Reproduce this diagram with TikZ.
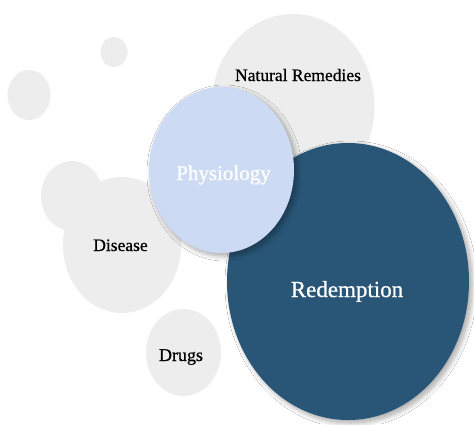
\documentclass[tikz,border=0pt]{standalone}
\usepackage{fontspec}
\setmainfont{Liberation Serif}
\newfontfamily\labelfont[FakeBold=0.7]{Liberation Serif}
\usetikzlibrary{shapes.geometric,shadows.blur}
\definecolor{bubblegray}{HTML}{EDEDED}
\definecolor{physfill}{HTML}{CCDAF3}
\definecolor{redfill}{HTML}{295677}
\tikzset{
  bubble/.style={ellipse, inner sep=0pt, draw=none, fill=bubblegray},
  lifted/.style={blur shadow={shadow xshift=3pt, shadow yshift=-3pt, shadow blur radius=5pt, shadow blur steps=12, shadow opacity=35}},
  darktext/.style={text=black, anchor=base, inner sep=0pt},
  lighttext/.style={text=white, anchor=base, inner sep=0pt}
}
\begin{document}
\begin{tikzpicture}[x=1pt, y=-1pt]
\useasboundingbox (0,0) rectangle (474,424);
\fill[white] (0,0) rectangle (474,424);

% background bubbles
\node[bubble, minimum width=27pt, minimum height=30pt] (dotA) at (114,52) {};
\node[bubble, minimum width=43pt, minimum height=50pt] (dotB) at (29,95) {};
\node[bubble, minimum width=163pt, minimum height=184pt] (remedies) at (293,106) {};
\node[bubble, minimum width=62pt, minimum height=70pt] (diseaseSmall) at (72,196) {};
\node[bubble, minimum width=118pt, minimum height=136pt] (disease) at (122,245) {};
\node[bubble, minimum width=75pt, minimum height=87pt] (drugs) at (183.5,352.5) {};

% highlighted bubbles
\node[ellipse, inner sep=0pt, fill=redfill, lifted, minimum width=242pt, minimum height=277pt] (redemption) at (348,281.5) {};
\node[ellipse, inner sep=0pt, fill=physfill, lifted, minimum width=145pt, minimum height=166pt] (physiology) at (221.5,170) {};

% labels
\node[darktext, font=\labelfont\fontsize{17.5}{20}\selectfont] (tRemedies) at (298,81) {Natural Remedies};
\node[darktext, font=\labelfont\fontsize{17.5}{20}\selectfont] (tDisease) at (120.5,251) {Disease};
\node[darktext, font=\labelfont\fontsize{18}{20}\selectfont] (tDrugs) at (181,361) {Drugs};
\node[lighttext, font=\labelfont\fontsize{21}{24}\selectfont] (tPhysiology) at (223.5,180) {Physiology};
\node[lighttext, font=\labelfont\fontsize{23}{26}\selectfont] (tRedemption) at (347,297) {Redemption};
\end{tikzpicture}
\end{document}
